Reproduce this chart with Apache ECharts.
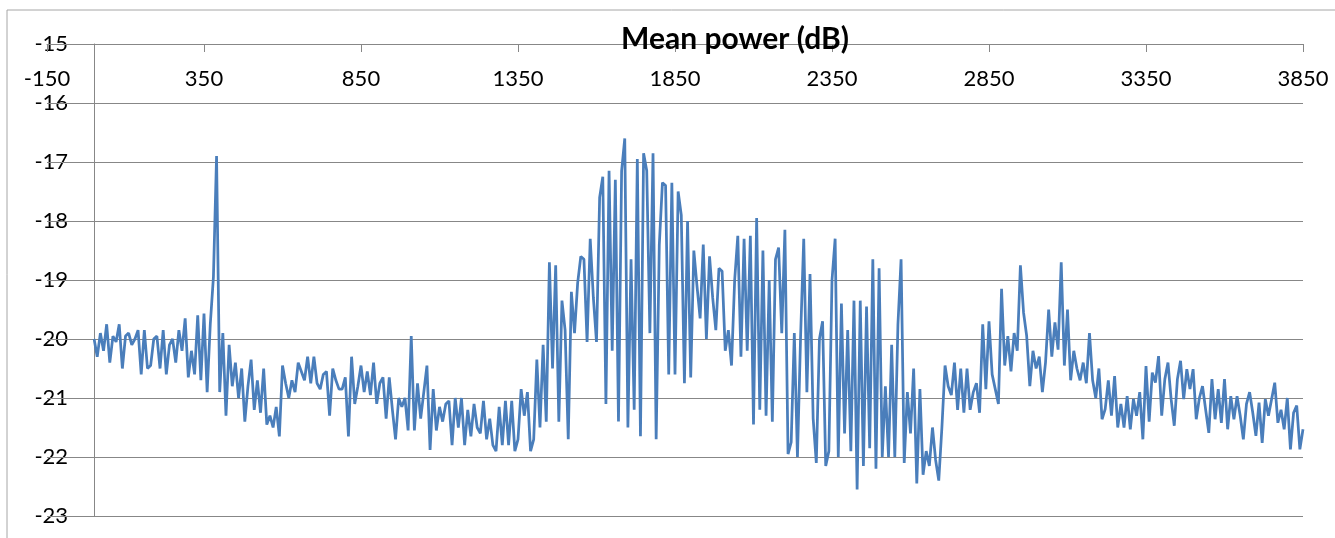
<!DOCTYPE html>
<html>
<head>
<meta charset="utf-8">
<script src="https://cdn.jsdelivr.net/npm/echarts@6/dist/echarts.min.js"></script>
<style>
    html, body { margin: 0; padding: 0; background: #fff; }
    #chart { width: 1335px; height: 538px; }
</style>
</head>
<body>
<div id="chart"></div>
<script>
// frequency of first sample and spacing between samples
const freqStart = 0;
const freqStep = 10;

// mean power (dB) in four bands
const powerLow = [
    -20.0, -20.3, -19.9, -20.2, -19.75, -20.4, -19.95, -20.05, -19.75, -20.5,
    -19.95, -19.9, -20.1, -20.0, -19.85, -20.6, -19.85, -20.5, -20.45, -20.0,
    -19.95, -20.5, -19.85, -20.6, -20.1, -20.0, -20.4, -19.85, -20.2, -19.65,
    -20.65, -20.2, -20.6, -19.6, -20.7, -19.57, -20.9, -19.75, -18.95, -16.9,
    -20.9, -19.9, -21.3, -20.1, -20.8, -20.4, -21.0, -20.5, -21.4, -20.8,
    -20.35, -21.2, -20.7, -21.25, -20.5, -21.45, -21.3, -21.5, -21.15, -21.65,
    -20.45, -20.75, -21.0, -20.7, -20.9, -20.4, -20.55, -20.7, -20.3, -20.75,
    -20.3, -20.75, -20.85, -20.6, -20.55, -21.3, -20.5, -20.7, -20.85, -20.85,
    -20.65, -21.65, -20.3, -21.1, -20.8, -20.45, -20.9, -20.55, -20.95, -20.4,
    -21.1, -20.75, -20.65, -21.35, -20.65, -21.2, -21.7, -21.0, -21.15, -21.0,
    -21.55, -19.95, -21.55, -20.75, -21.35, -20.9, -20.45, -21.88, -20.85, -21.55,
    -21.15, -21.4, -21.1, -21.05, -21.8, -21.0, -21.5, -21.0, -21.8, -21.2,
    -21.65, -21.1, -21.5, -21.6, -21.05, -21.7, -21.35, -21.8, -21.9, -21.15
];
const powerMid = [
    -21.8, -21.05, -21.8, -21.05, -21.9, -21.7, -20.85, -21.3, -20.9, -21.9,
    -21.7, -20.35, -21.5, -20.1, -21.4, -18.7, -20.5, -18.75, -21.4, -19.35,
    -19.85, -21.7, -19.2, -19.9, -19.05, -18.6, -18.65, -20.05, -18.3, -19.3,
    -20.05, -17.6, -17.25, -21.1, -17.15, -20.2, -17.3, -21.4, -17.15, -16.6,
    -21.5, -18.65, -21.2, -16.95, -21.65, -16.85, -17.15, -19.9, -16.85, -21.7,
    -18.4, -17.35, -17.4, -20.6, -17.35, -20.6, -17.5, -17.9, -20.75, -18.0,
    -20.65, -18.5, -19.1, -19.65, -18.4, -20.0, -18.6, -19.3, -19.85, -18.8,
    -18.85, -20.2, -19.85, -20.45, -19.0, -18.25, -20.3, -18.3, -20.2, -18.25,
    -21.45, -17.95, -21.2, -18.5, -21.3, -19.0, -21.4, -18.65, -18.45, -19.9
];
const powerHigh = [
    -18.15, -21.95, -21.75, -19.9, -22.0, -19.95, -18.3, -20.9, -18.9, -21.35,
    -22.1, -20.0, -19.7, -22.15, -21.9, -19.0, -18.3, -22.0, -19.4, -21.6,
    -19.85, -21.9, -19.35, -22.55, -19.35, -22.15, -19.45, -21.85, -18.65, -22.2,
    -18.8, -22.0, -20.8, -22.0, -20.1, -22.0, -19.75, -18.65, -22.1, -20.9,
    -21.6, -20.5, -22.45, -20.85, -22.3, -21.9, -22.15, -21.5, -22.05, -22.4,
    -21.5, -20.45, -20.8, -20.95, -20.4, -21.2, -20.5, -21.25, -20.5, -21.2,
    -20.9, -20.75, -21.25, -19.75, -20.85, -19.7, -20.6, -20.85, -21.1, -19.15
];
const powerTop = [
    -20.45, -19.95, -20.55, -19.9, -20.2, -18.75, -19.55, -19.95, -20.8, -20.2,
    -20.5, -20.3, -20.9, -20.4, -19.5, -20.3, -19.72, -20.18, -18.7, -20.45,
    -19.5, -20.7, -20.2, -20.5, -20.7, -20.4, -20.75, -19.9, -20.7, -21.0,
    -20.5, -21.36, -21.19, -20.7, -21.3, -20.63, -21.5, -21.1, -21.5, -20.97,
    -21.53, -21.02, -21.3, -20.9, -21.7, -20.46, -21.4, -20.57, -20.74, -20.29,
    -21.3, -20.68, -20.4, -21.02, -21.47, -20.68, -20.37, -21.02, -20.51, -20.85,
    -20.51, -21.36, -21.0, -20.8, -21.2, -21.59, -20.68, -21.36, -20.85, -21.42,
    -20.68, -21.53, -20.97, -21.36, -20.97, -21.3, -21.7, -21.1, -20.9, -21.25,
    -21.64, -21.08, -21.76, -21.02, -21.3, -21.02, -20.74, -21.42, -21.2, -21.53,
    -21.0, -21.87, -21.25, -21.13, -21.87, -21.53
];

// axis ranges and tick spacing
const xMin = -150, xMax = 3850, xInterval = 500;
const yMin = -23, yMax = -15, yInterval = 1;

const power = powerLow.concat(powerMid, powerHigh, powerTop);
const points = power.map((v, i) => [freqStart + i * freqStep, v]);

const gridColor = '#878787';
const font = 'Lato, "Open Sans", sans-serif';

// plot area in pixels; the vertical axis crosses at x = 0
const plotLeft = 47, plotRight = 1303;
const zeroX = plotLeft + (0 - xMin) / (xMax - xMin) * (plotRight - plotLeft);
const labelRight = zeroX - 26;

const frame = {
    type: 'rect',
    shape: { x: 7, y: 10, width: 1400, height: 600 },
    style: { fill: 'none', stroke: '#a6a6a6', lineWidth: 1 },
    silent: true
};

let chart = echarts.init(document.getElementById('chart'));
let option = {
    animation: false,
    title: {
        text: 'Mean power (dB)',
        left: 730,
        textAlign: 'center',
        top: 19,
        textStyle: {
            color: '#000',
            fontFamily: font,
            fontWeight: 'bold',
            fontSize: 30
        }
    },
    graphic: [frame],
    grid: {
        left: plotLeft,
        right: 1335 - plotRight,
        top: 44,
        bottom: 22,
        outerBoundsMode: 'none'
    },
    xAxis: {
        type: 'value',
        position: 'top',
        min: xMin,
        max: xMax,
        interval: xInterval,
        axisLine: { onZero: false, lineStyle: { color: gridColor, width: 1 } },
        axisTick: { inside: true, length: 8, lineStyle: { color: gridColor } },
        axisLabel: {
            inside: true,
            margin: 24,
            color: '#000',
            fontFamily: font,
            fontSize: 22,
            formatter: v => String(v)
        },
        splitLine: { show: false }
    },
    yAxis: {
        type: 'value',
        min: yMin,
        max: yMax,
        interval: yInterval,
        offset: plotLeft - zeroX,
        axisLine: { show: true, onZero: false, lineStyle: { color: gridColor, width: 1 } },
        axisTick: { show: true, length: 10, lineStyle: { color: gridColor } },
        axisLabel: { show: false },
        splitLine: { show: true, lineStyle: { color: gridColor, width: 1 } }
    },
    series: [{
        type: 'line',
        data: points,
        showSymbol: false,
        lineStyle: { color: '#4a7ebb', width: 2.75 },
        itemStyle: { color: '#4a7ebb' }
    }]
};
chart.setOption(option);

// y tick labels, right-aligned next to the axis line at x = 0
function yLabels(dx) {
    let out = [];
    for (let v = yMin; v <= yMax; v += yInterval) {
        out.push({
            type: 'text',
            x: labelRight + dx,
            y: chart.convertToPixel({ yAxisIndex: 0 }, v),
            silent: true,
            style: {
                text: String(v),
                fill: '#000',
                font: '22px ' + font,
                textAlign: 'right',
                textVerticalAlign: 'middle'
            }
        });
    }
    return out;
}
chart.setOption({ graphic: [frame].concat(yLabels(0)) });

// the labels came out shifted left on earlier runs: find where they
// really landed on the canvas and nudge them back if needed
try {
    chart.getZr().refreshImmediately();
    const canvas = chart.getDom().querySelector('canvas');
    const w = 92;
    const img = canvas.getContext('2d').getImageData(0, 0, w, canvas.height);
    let rightmost = -1;
    for (let v = yMin; v <= yMin + 5; v += yInterval) {
        const py = Math.round(chart.convertToPixel({ yAxisIndex: 0 }, v));
        for (let y = Math.max(0, py - 8); y <= Math.min(canvas.height - 1, py + 8); y++) {
            for (let x = 0; x < w; x++) {
                const i = (y * w + x) * 4;
                const d = img.data;
                if (d[i + 3] > 200 && d[i] < 90 && d[i + 1] < 90 && d[i + 2] < 90) {
                    rightmost = Math.max(rightmost, x);
                }
            }
        }
    }
    if (rightmost > 0) {
        const dx = Math.round(labelRight - 1 - rightmost);
        if (Math.abs(dx) > 4) {
            chart.setOption({ graphic: [frame].concat(yLabels(dx)) });
        }
    }
} catch (e) {
    // keep the labels where they are
}
</script>
</body>
</html>
